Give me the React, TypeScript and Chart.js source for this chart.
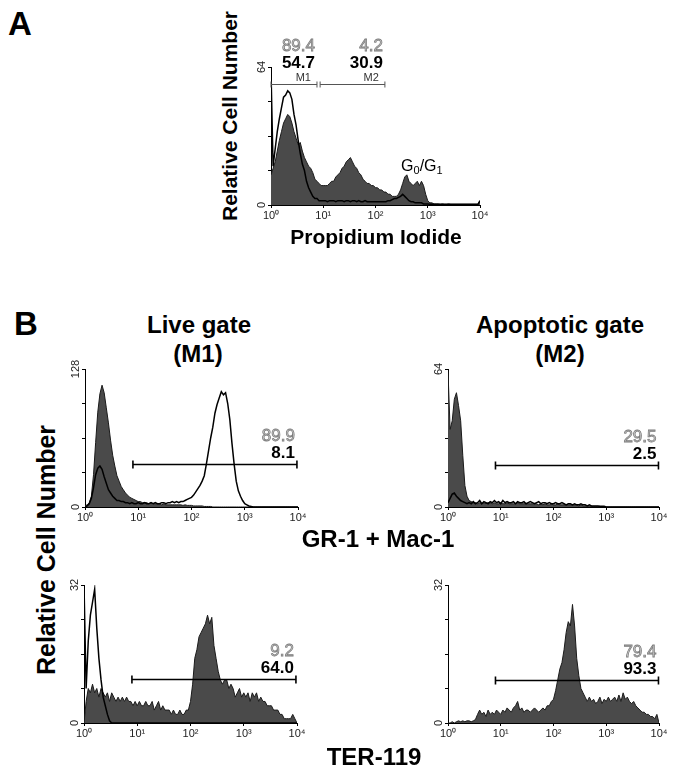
import { useEffect, useRef } from 'react';
import { Chart, registerables } from 'chart.js';

Chart.register(...registerables);

const FONT = '"Liberation Sans", Arial, Helvetica, sans-serif';

// log10 decades on the x axis
const DECADE_LABELS = ['10⁰', '10¹', '10²', '10³', '10⁴'];
// 101 channels, every 0.04 decade from 10^0 to 10^4
const CHANNELS = Array.from({ length: 101 }, (_, i) => Math.round(i * 4) / 100);

// ---- Panel A : Propidium iodide ----
const A_FILLED = [
  14, 17, 20, 25, 30, 34, 38, 40, 42, 41,
  38, 34, 31, 28, 29, 25, 22, 20, 18, 17,
  15, 12, 11, 10, 9, 9, 9, 9, 10, 11,
  11, 13, 14, 15, 17, 18, 20, 21, 22, 20,
  18, 17, 15, 14, 12, 11, 10, 10, 9, 9,
  8, 8, 7, 7, 6, 6, 5, 5, 4, 4,
  4, 5, 7, 10, 13, 14, 11, 10, 9, 10,
  11, 9, 11, 9, 5, 2, 1, 1, 0.5, 0.5,
  0.5, 0.3, 0.5, 0.3, 0.3, 0.5, 0.3, 0.3, 0.3, 0.3,
  0.3, 0.3, 0.3, 0.3, 0.3, 0.3, 0.3, 0.3, 0.3, 0.3,
  2,
];
const A_OPEN = [
  62, 18, 26, 34, 40, 45, 50, 51, 53, 52,
  49, 42, 37, 30, 24, 19, 16, 11, 8, 6,
  4, 3, 3, 2, 2, 2, 2, 1.5, 2, 2,
  2, 1.5, 2, 2, 2, 1.5, 2, 2, 1.5, 2,
  2, 1.5, 2, 1.5, 1.5, 2, 1.5, 1.5, 1.5, 1.5,
  1.5, 1.5, 1.5, 1.5, 1.5, 1.5, 2, 2, 2.5, 3,
  3, 3.5, 4, 5, 4, 3, 2, 1.5, 1.5, 1,
  1, 1, 1, 0.5, 0.5, 0.5, 0.3, 0.3, 0.3, 0.3,
  0.3, 0.3, 0.3, 0.3, 0.3, 0.3, 0.3, 0.3, 0.3, 0.3,
  0.3, 0.3, 0.3, 0.3, 0.3, 0.3, 0.3, 0.3, 0.3, 0.3,
  2,
];

// ---- Panel B : Live gate, GR-1 + Mac-1 ----
const LIVE_GR_FILLED = [
  1, 2, 4, 10, 30, 60, 88, 105, 113, 106,
  92, 78, 62, 48, 38, 29, 24, 19, 16, 13,
  11, 9, 8, 7, 6, 5, 5, 4, 4, 4,
  3, 4, 3, 3, 3, 3, 2, 3, 2, 2,
  2, 2, 2, 2, 2, 2, 1.5, 2, 1.5, 1.5,
  1.5, 1, 1, 1, 1, 1, 0.5, 0.5, 0.5, 0.5,
  0, 0, 0, 0, 0, 0, 0, 0, 0, 0,
  0, 0, 0, 0, 0, 0, 0, 0, 0, 0,
  0, 0, 0, 0, 0, 0, 0, 0, 0, 0,
  0, 0, 0, 0, 0, 0, 0, 0, 0, 0,
  0,
];
const LIVE_GR_OPEN = [
  0, 1, 3, 8, 18, 30, 36, 38, 35, 28,
  22, 16, 13, 10, 8, 6, 6, 5, 5, 4,
  4, 3, 4, 3, 3, 4, 3, 3, 4, 3,
  3, 4, 3, 4, 3, 3, 4, 4, 3, 4,
  4, 5, 4, 5, 4, 5, 5, 6, 7, 8,
  9, 11, 14, 17, 20, 24, 29, 40, 52, 64,
  74, 87, 95, 101, 107, 104, 106, 96, 81, 59,
  40, 24, 15, 10, 6, 3, 2, 1, 0.5, 0,
  0, 0, 0, 0, 0, 0, 0, 0, 0, 0,
  0, 0, 0, 0, 0, 0, 0, 0, 0, 0,
  0,
];

// ---- Panel B : Apoptotic gate, GR-1 + Mac-1 ----
const APO_GR_FILLED = [
  63, 36, 40, 50, 53, 47, 40, 24, 10, 5,
  3, 2.5, 2, 2, 1.5, 2, 1.5, 2, 1.5, 2,
  2, 1.5, 2, 1.5, 1.5, 2, 1.5, 1.5, 2, 1.5,
  1.5, 1.5, 1.5, 2, 1.5, 1.5, 1.5, 1.5, 1.5, 1.5,
  1.5, 1.5, 1.5, 1, 1.5, 1, 1.5, 1, 1, 1.5,
  1, 1, 1.5, 1, 1, 1, 1, 1, 1, 1,
  1, 1, 0.5, 1, 0.5, 0.5, 0.5, 0.5, 0.3, 0.3,
  0.3, 0.3, 0.3, 0, 0, 0, 0, 0, 0, 0,
  0, 0, 0, 0, 0, 0, 0, 0, 0, 0,
  0, 0, 0, 0, 0, 0, 0, 0, 0, 0,
  0,
];
const APO_GR_OPEN = [
  2, 4, 6, 6.5, 5, 4, 3, 2.5, 2, 1.5,
  2, 1.5, 2.5, 1.5, 2, 3, 1.5, 2.5, 2, 1.5,
  2.5, 2, 3, 2, 2.5, 1.5, 3, 2, 2.5, 2,
  2, 2.5, 1.5, 2.5, 2, 2, 2.5, 1.5, 2, 2.5,
  2, 1.5, 2, 2.5, 1.5, 2, 2, 1.5, 2, 1.5,
  1.5, 2, 1.5, 1.5, 2, 1.5, 1, 1.5, 1.5, 1,
  1.5, 1, 1, 1.5, 1, 1, 0.5, 1, 0.5, 0.5,
  0.5, 0.5, 0.3, 0.3, 0.3, 0, 0, 0, 0, 0,
  0, 0, 0, 0, 0, 0, 0, 0, 0, 0,
  0, 0, 0, 0, 0, 0, 0, 0, 0, 0,
  0,
];

// ---- Panel B : Live gate, TER-119 ----
const LIVE_TER_FILLED = [
  0, 5, 8, 7, 9, 7, 8, 6, 8, 7,
  6, 7, 5, 7, 6, 5, 6, 5, 6, 5,
  6, 5, 5, 4, 5, 4, 5, 4, 4, 5,
  4, 4, 5, 3, 4, 5, 3, 4, 3, 3,
  3, 2, 3, 2, 2, 3, 2, 2, 3, 3,
  5, 9, 15, 17, 20, 21, 22, 23, 25, 23,
  24.5, 18, 15, 12, 10, 9, 10, 10, 8, 9,
  8, 6, 7, 8, 6, 7, 6, 7, 5, 7,
  6, 7, 5, 6, 5, 5, 4, 4, 4, 3,
  3, 3, 2, 2, 1, 1, 1, 1, 2, 1,
  0,
];
const LIVE_TER_OPEN = [
  32, 8, 19, 25, 28, 31, 22, 15, 10, 6,
  4, 2, 0.5, 0, 0, 0, 0, 0, 0, 0,
  0, 0, 0, 0, 0, 0, 0, 0, 0, 0,
  0, 0, 0, 0, 0, 0, 0, 0, 0, 0,
  0, 0, 0, 0, 0, 0, 0, 0, 0, 0,
  0, 0, 0, 0, 0, 0, 0, 0, 0, 0,
  0, 0, 0, 0, 0, 0, 0, 0, 0, 0,
  0, 0, 0, 0, 0, 0, 0, 0, 0, 0,
  0, 0, 0, 0, 0, 0, 0, 0, 0, 0,
  0, 0, 0, 0, 0, 0, 0, 0, 0, 0,
  0,
];

// ---- Panel B : Apoptotic gate, TER-119 ----
const APO_TER_FILLED = [
  0, 0, 0.3, 0, 0.3, 0.5, 0.3, 0.5, 0.3, 0.5,
  0.5, 0.3, 0.5, 0.8, 2, 3, 2, 2.5, 1.5, 3,
  2, 2.5, 2, 3, 2.5, 2, 3, 2.5, 3.5, 3,
  2.5, 3.5, 4, 5, 3, 3.5, 2.5, 3, 3, 2.5,
  3, 3.5, 3, 2.5, 3, 3.5, 3, 4, 4, 5,
  5.5, 7.5, 10, 12.5, 14, 17, 21, 23.5, 22.5, 27.5,
  22.5, 15, 11, 8, 7, 6, 5, 6, 5, 5.5,
  4.5, 5, 6, 4.5, 5.5, 5, 6, 5, 5.5, 6,
  5, 6.5, 5, 7, 5.5, 6, 5, 4.5, 5, 4,
  3.5, 3, 2.5, 2.5, 2, 2, 1.5, 1.5, 1, 2,
  0,
];

// gate percentages: [control (grey), sample (bold)]
const A_M1_PCT = ['89.4', '54.7'];
const A_M2_PCT = ['4.2', '30.9'];
const LIVE_GR_PCT = ['89.9', '8.1'];
const APO_GR_PCT = ['29.5', '2.5'];
const LIVE_TER_PCT = ['9.2', '64.0'];
const APO_TER_PCT = ['79.4', '93.3'];

type Gate = { from: number; to: number; level: number; grey: string; bold: string; tag?: string; thin?: boolean };

type HistoProps = {
  x0: number; x1: number; y0: number; y1: number; ymax: number;
  filled: number[]; open?: number[]; gates: Gate[]; padT?: number; g0g1?: boolean;
};

function pts(vals: number[]) {
  return CHANNELS.map((c, i) => ({ x: c, y: vals[i] }));
}

function Histo(p: HistoProps) {
  const ref = useRef<HTMLCanvasElement>(null);
  const padL = 40, padR = 20, padB = 30;
  const padT = p.padT ?? 10;
  const W = p.x1 - p.x0 + padL + padR;
  const H = p.y1 - p.y0 + padT + padB;

  useEffect(() => {
    const datasets: any[] = [];
    if (p.open) {
      datasets.push({
        data: pts(p.open), borderColor: '#000', borderWidth: 1.5, fill: false,
        pointRadius: 0, tension: 0, order: 0,
      });
    }
    datasets.push({
      data: pts(p.filled), borderColor: '#1a1a1a', borderWidth: 1, backgroundColor: '#4a4a4a',
      fill: 'origin', pointRadius: 0, tension: 0, order: 1,
    });

    const annot = {
      id: 'annot',
      afterDraw(chart: any) {
        const ctx = chart.ctx as CanvasRenderingContext2D;
        const xs = chart.scales.x, ys = chart.scales.y;
        ctx.save();
        // rotated y labels
        ctx.font = `11px ${FONT}`;
        ctx.fillStyle = '#222';
        for (const v of [0, p.ymax]) {
          ctx.save();
          ctx.translate(xs.left - 4, ys.getPixelForValue(v));
          ctx.rotate(-Math.PI / 2);
          ctx.textAlign = 'center';
          ctx.textBaseline = 'bottom';
          ctx.fillText(String(v), 0, 0);
          ctx.restore();
        }
        for (const g of p.gates) {
          const xa = xs.getPixelForValue(g.from);
          const xb = xs.getPixelForValue(g.to);
          const yy = Math.round(ys.getPixelForValue(g.level)) + 0.5;
          ctx.strokeStyle = g.thin ? '#555' : '#000';
          ctx.lineWidth = g.thin ? 1 : 1.6;
          const cap = g.thin ? 3 : 4;
          ctx.beginPath();
          ctx.moveTo(xa, yy); ctx.lineTo(xb, yy);
          ctx.moveTo(xa, yy - cap); ctx.lineTo(xa, yy + cap);
          ctx.moveTo(xb, yy - cap); ctx.lineTo(xb, yy + cap);
          ctx.stroke();
          ctx.textAlign = 'right';
          ctx.textBaseline = 'alphabetic';
          const rx = xb - 2;
          const greyDy = g.thin ? 34 : 24;
          const boldDy = g.thin ? 17 : 7;
          ctx.font = `17px ${FONT}`;
          ctx.fillStyle = '#d4d4d4';
          ctx.strokeStyle = '#7c7c7c';
          ctx.lineWidth = 0.8;
          ctx.fillText(g.grey, rx, yy - greyDy);
          ctx.strokeText(g.grey, rx, yy - greyDy);
          ctx.font = `bold 17px ${FONT}`;
          ctx.fillStyle = '#000';
          ctx.fillText(g.bold, rx, yy - boldDy);
          if (g.tag) {
            ctx.font = `11px ${FONT}`;
            ctx.fillStyle = '#333';
            ctx.fillText(g.tag, rx - 4, yy - 4);
          }
        }
        if (p.g0g1) {
          let px = xs.getPixelForValue(2.49);
          const py = ys.getPixelForValue(15.8);
          ctx.textAlign = 'left';
          ctx.fillStyle = '#000';
          const parts: [string, number, number][] = [['G', 16, 0], ['0', 11, 3], ['/G', 16, 0], ['1', 11, 3]];
          for (const [t, s, dy] of parts) {
            ctx.font = `${s}px ${FONT}`;
            ctx.fillText(t, px, py + dy);
            px += ctx.measureText(t).width;
          }
        }
        ctx.restore();
      },
    };

    const chart = new Chart(ref.current!, {
      type: 'line',
      data: { datasets },
      options: {
        animation: false,
        responsive: false,
        devicePixelRatio: 1,
        events: [],
        layout: { padding: { left: padL - 30, top: padT, right: padR, bottom: padB - 22 } },
        plugins: { legend: { display: false }, tooltip: { enabled: false } },
        scales: {
          x: {
            type: 'linear', min: 0, max: 4,
            afterFit: (s: any) => { s.height = 22; },
            ticks: {
              stepSize: 1, autoSkip: false, maxRotation: 0, minRotation: 0, padding: 1,
              color: '#222', font: { size: 11, family: FONT },
              callback: (v: any) => DECADE_LABELS[Math.round(Number(v))],
            },
            grid: { display: true, drawOnChartArea: false, drawTicks: true, tickLength: 3, color: '#000' },
            border: { display: true, color: '#000', width: 1 },
          },
          y: {
            type: 'linear', min: 0, max: p.ymax,
            afterFit: (s: any) => { s.width = 30; },
            ticks: { stepSize: p.ymax / 4, display: false },
            grid: { display: true, drawOnChartArea: false, drawTicks: true, tickLength: 3, color: '#000' },
            border: { display: true, color: '#000', width: 1 },
          },
        },
      } as any,
      plugins: [annot],
    });
    return () => chart.destroy();
  }, []);

  return (
    <canvas
      ref={ref}
      width={W}
      height={H}
      style={{ position: 'absolute', left: p.x0 - padL, top: p.y0 - padT, width: W, height: H }}
    />
  );
}

function Label(props: { x: number; y: number; size: number; text: string; bold?: boolean; align?: 'left' | 'center' }) {
  const { x, y, size, text, bold = true, align = 'left' } = props;
  return (
    <div
      style={{
        position: 'absolute', left: x, top: y - 0.8465 * size, fontFamily: FONT, fontSize: size,
        fontWeight: bold ? 700 : 400, lineHeight: `${size}px`, whiteSpace: 'nowrap', color: '#000',
        transform: align === 'center' ? 'translateX(-50%)' : 'none',
      }}
    >
      {text}
    </div>
  );
}

function VLabel(props: { cx: number; cy: number; size: number; text: string }) {
  const { cx, cy, size, text } = props;
  return (
    <div
      style={{
        position: 'absolute', left: cx, top: cy, fontFamily: FONT, fontSize: size, fontWeight: 700,
        lineHeight: `${size}px`, whiteSpace: 'nowrap', color: '#000',
        transform: 'translate(-50%, -50%) rotate(-90deg)',
      }}
    >
      {text}
    </div>
  );
}

export default function App() {
  return (
    <div style={{ position: 'absolute', left: 0, top: 0, width: 681, height: 772, background: '#fff', overflow: 'hidden' }}>
      <Label x={8} y={35} size={33} text="A" />
      <VLabel cx={229} cy={116} size={21} text="Relative Cell Number" />
      <Histo
        x0={271} x1={480} y0={67} y1={205} ymax={64} padT={55}
        filled={A_FILLED} open={A_OPEN} g0g1
        gates={[
          { from: 0, to: 0.88, level: 56, grey: A_M1_PCT[0], bold: A_M1_PCT[1], tag: 'M1', thin: true },
          { from: 0.94, to: 2.18, level: 56, grey: A_M2_PCT[0], bold: A_M2_PCT[1], tag: 'M2', thin: true },
        ]}
      />
      <Label x={376} y={244} size={21} text="Propidium Iodide" align="center" />

      <Label x={14} y={335} size={33} text="B" />
      <Label x={199} y={333} size={24} text="Live gate" align="center" />
      <Label x={198} y={362} size={24} text="(M1)" align="center" />
      <Label x={560} y={333} size={24} text="Apoptotic gate" align="center" />
      <Label x={560} y={362} size={24} text="(M2)" align="center" />
      <VLabel cx={46} cy={550} size={25} text="Relative Cell Number" />

      <Histo
        x0={85} x1={298} y0={369} y1={507} ymax={128}
        filled={LIVE_GR_FILLED} open={LIVE_GR_OPEN}
        gates={[{ from: 0.9, to: 3.98, level: 40, grey: LIVE_GR_PCT[0], bold: LIVE_GR_PCT[1] }]}
      />
      <Histo
        x0={448} x1={659} y0={369} y1={507} ymax={64}
        filled={APO_GR_FILLED} open={APO_GR_OPEN}
        gates={[{ from: 0.9, to: 3.99, level: 19.5, grey: APO_GR_PCT[0], bold: APO_GR_PCT[1] }]}
      />
      <Label x={378} y={547} size={24} text="GR-1 + Mac-1" align="center" />

      <Histo
        x0={84} x1={297} y0={585} y1={723} ymax={32}
        filled={LIVE_TER_FILLED} open={LIVE_TER_OPEN}
        gates={[{ from: 0.9, to: 3.98, level: 10.2, grey: LIVE_TER_PCT[0], bold: LIVE_TER_PCT[1] }]}
      />
      <Histo
        x0={448} x1={659} y0={585} y1={723} ymax={32}
        filled={APO_TER_FILLED}
        gates={[{ from: 0.9, to: 3.99, level: 10, grey: APO_TER_PCT[0], bold: APO_TER_PCT[1] }]}
      />
      <Label x={374} y={765} size={24} text="TER-119" align="center" />
    </div>
  );
}
